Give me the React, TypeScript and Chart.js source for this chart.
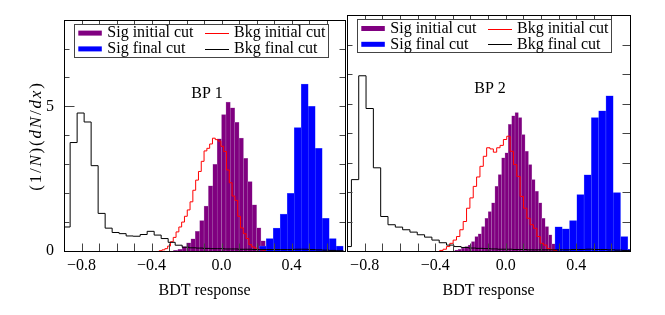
import React, { useEffect, useRef } from "react";
import { Chart, registerables } from "chart.js";

Chart.register(...registerables);

const FONT = "'Liberation Serif', 'Times New Roman', serif";

const X_MIN = -0.9;
const X_MAX = 0.705;
const Y_MIN = 0;
const Y_MAX = 8;
const X_LABELED_TICKS = [-0.8, -0.4, 0.0, 0.4];
const Y_LABELED_TICKS = [0, 5];
const X_TITLE = "BDT response";
const SERIES_LABELS = ["Sig initial cut", "Bkg initial cut", "Sig final cut", "Bkg final cut"];
const PANEL_NAMES = ["BP 1", "BP 2"];

// ---------- BP 1 ----------
const bp1SigInitialStart = -0.275;
const bp1SigInitialWidth = 0.025;
const bp1SigInitial = [0.02, 0.06, 0.15, 0.28, 0.42, 0.68, 1.05, 1.55, 2.25, 3.0, 3.88, 4.72, 5.15, 4.95, 4.45, 3.9, 3.2, 2.4, 1.6, 0.8, 0.35, 0.12, 0.04];

const bp1BkgInitialStart = -0.356;
const bp1BkgInitialWidth = 0.016;
const bp1BkgInitial = [0.01, 0.04, 0.08, 0.17, 0.32, 0.47, 0.66, 0.83, 1.0, 1.2, 1.42, 1.7, 2.1, 2.45, 2.75, 3.1, 3.46, 3.55, 3.7, 3.9, 3.85, 3.8, 3.62, 3.44, 2.8, 2.36, 1.9, 1.75, 1.2, 0.8, 0.6, 0.43, 0.22, 0.14, 0.1, 0.06, 0.03, 0.01];

const bp1SigFinalStart = 0.215;
const bp1SigFinalWidth = 0.04;
const bp1SigFinal = [0.17, 0.43, 0.79, 1.28, 1.99, 4.27, 5.77, 5.0, 3.55, 1.13, 0.43, 0.17];

const bp1BkgFinalStart = -0.905;
const bp1BkgFinalWidth = 0.04;
const bp1BkgFinal = [0.83, 3.75, 4.77, 4.46, 2.95, 1.3, 0.79, 0.64, 0.6, 0.52, 0.51, 0.57, 0.68, 0.55, 0.43, 0.3, 0.2, 0.13, 0.11, 0.1, 0.09, 0.08, 0.08, 0.07, 0.07, 0.06, 0.06, 0.05, 0.05, 0.05, 0.05, 0.05, 0.05, 0.06, 0.06, 0.05, 0.04, 0.03, 0.02, 0.01];

// ---------- BP 2 ----------
const bp2SigInitialStart = -0.289;
const bp2SigInitialWidth = 0.019;
const bp2SigInitial = [0.03, 0.06, 0.1, 0.15, 0.2, 0.32, 0.49, 0.58, 0.83, 1.11, 1.34, 1.63, 2.19, 2.59, 3.16, 3.33, 4.29, 4.58, 4.69, 4.52, 3.95, 3.38, 2.93, 2.42, 2.02, 1.63, 1.11, 0.83, 0.55, 0.24];

const bp2BkgInitialStart = -0.374;
const bp2BkgInitialWidth = 0.019;
const bp2BkgInitial = [0.02, 0.06, 0.15, 0.26, 0.37, 0.49, 0.72, 1.0, 1.45, 1.8, 2.19, 2.51, 2.87, 3.21, 3.5, 3.46, 3.35, 3.5, 3.58, 3.78, 3.89, 3.38, 2.93, 2.53, 1.85, 1.45, 1.11, 0.89, 0.77, 0.49, 0.26, 0.2, 0.08, 0.05, 0.02];

const bp2SigFinalStart = 0.2795;
const bp2SigFinalWidth = 0.0413;
const bp2SigFinal = [0.82, 0.75, 1.03, 1.91, 2.58, 4.52, 4.75, 5.26, 1.98, 0.49, 0.06];

const bp2BkgFinalStart = -0.9165;
const bp2BkgFinalWidth = 0.0415;
const bp2BkgFinal = [0.15, 2.42, 5.94, 4.83, 2.82, 1.17, 0.89, 0.81, 0.72, 0.64, 0.55, 0.47, 0.37, 0.28, 0.2, 0.15, 0.12, 0.1, 0.09, 0.08, 0.07, 0.06, 0.06, 0.05, 0.05, 0.04, 0.04, 0.04, 0.04, 0.04, 0.04, 0.05, 0.05, 0.06, 0.05, 0.05, 0.04, 0.03, 0.02];

const COLORS = {
  sigInitial: "#800080",
  sigInitialEdge: "#b27ab8",
  sigFinal: "#0000ff",
  sigFinalEdge: "#5c6cff",
  bkgInitial: "#ff0000",
  bkgFinal: "#000000",
};

type Hist = { start: number; width: number; values: number[] };

function barData(h: Hist) {
  return h.values.map((y, i) => ({ x: h.start + h.width * (i + 0.5), y }));
}

function stepData(h: Hist) {
  const pts = [{ x: h.start, y: 0 }];
  h.values.forEach((y, i) => pts.push({ x: h.start + h.width * i, y }));
  pts.push({ x: h.start + h.width * h.values.length, y: 0 });
  return pts;
}

function isMultiple(v: number, step: number) {
  const r = v / step;
  return Math.abs(r - Math.round(r)) < 1e-6;
}

type PanelDef = {
  name: string;
  isLeft: boolean;
  sigInitial: Hist;
  bkgInitial: Hist;
  sigFinal: Hist;
  bkgFinal: Hist;
};

function overlayPlugin(panel: PanelDef) {
  return {
    id: "overlay",
    afterDraw(chart: any) {
      const { ctx, chartArea: a } = chart;
      const xs = chart.scales.x;
      const ys = chart.scales.y;
      const L = Math.round(a.left) + 0.5;
      const R = Math.round(a.right) + 0.5;
      const T = Math.round(a.top) + 0.5;
      const B = Math.round(a.bottom) + 0.5;
      ctx.save();

      // ticks
      ctx.strokeStyle = "#444";
      ctx.lineWidth = 1;
      ctx.beginPath();
      xs.ticks.forEach((t: any) => {
        const v = t.value;
        if (!isMultiple(v, 0.1) || v <= X_MIN + 1e-6 || v > X_MAX) return;
        const px = Math.round(xs.getPixelForValue(v)) + 0.5;
        ctx.moveTo(px, B);
        ctx.lineTo(px, B - 8);
        ctx.moveTo(px, T);
        ctx.lineTo(px, T + 4);
      });
      ys.ticks.forEach((t: any) => {
        const v = t.value;
        if (v <= Y_MIN || v >= Y_MAX) return;
        const py = Math.round(ys.getPixelForValue(v)) + 0.5;
        const major = Y_LABELED_TICKS.includes(v);
        const leftLen = panel.isLeft ? (major ? 10 : 5) : 5;
        const rightLen = panel.isLeft ? 6 : 8;
        ctx.moveTo(L, py);
        ctx.lineTo(L + leftLen, py);
        ctx.moveTo(R, py);
        ctx.lineTo(R - rightLen, py);
      });
      ctx.stroke();

      // frame
      ctx.strokeStyle = "#000";
      ctx.strokeRect(L, T, R - L, B - T);

      // legend
      const lx = Math.round(a.left) + 10.5;
      const ly = Math.round(a.top) + 4.5;
      ctx.strokeStyle = "#444";
      ctx.strokeRect(lx, ly, 254, 33);
      ctx.font = `16px ${FONT}`;
      ctx.fillStyle = "#000";
      ctx.textBaseline = "alphabetic";
      ctx.textAlign = "left";
      const cols = [a.left + 14.3, a.left + 141];
      const rowsMid = [a.top + 13.5, a.top + 29.3];
      const rowsBase = [a.top + 17.8, a.top + 33.6];
      SERIES_LABELS.forEach((label, idx) => {
        const ds = chart.data.datasets.find((d: any) => d.label === label);
        if (!ds) return;
        const col = idx % 2;
        const row = Math.floor(idx / 2);
        const mx = cols[col];
        const my = rowsMid[row];
        if (ds.type === "bar") {
          ctx.fillStyle = ds.backgroundColor;
          ctx.fillRect(mx, my - 2.5, 23.5, 5);
        } else {
          ctx.strokeStyle = ds.borderColor;
          ctx.beginPath();
          ctx.moveTo(mx, Math.round(my) + 0.5);
          ctx.lineTo(mx + 24, Math.round(my) + 0.5);
          ctx.stroke();
        }
        ctx.fillStyle = "#000";
        ctx.fillText(label, mx + 29, rowsBase[row]);
      });

      // panel name
      ctx.textAlign = "center";
      ctx.fillText(panel.name, a.left + 143, a.top + 78.3);

      // y title
      if (panel.isLeft) {
        const parts: [string, boolean][] = [
          ["(", false], ["1", false], ["/", false], ["N", true], [")", false],
          ["(", false], ["d", true], ["N", true], ["/", false], ["d", true], ["x", true], [")", false],
        ];
        const gap = 1.8;
        const size = 17;
        const fontFor = (it: boolean) => `${it ? "italic " : ""}${size}px ${FONT}`;
        let total = 0;
        parts.forEach(([t, it]) => {
          ctx.font = fontFor(it);
          total += ctx.measureText(t).width;
        });
        total += gap * (parts.length - 1);
        ctx.translate(36.5, 137);
        ctx.rotate(-Math.PI / 2);
        ctx.textAlign = "left";
        ctx.textBaseline = "middle";
        let x = -total / 2;
        parts.forEach(([t, it]) => {
          ctx.font = fontFor(it);
          ctx.fillText(t, x, 0);
          x += ctx.measureText(t).width + gap;
        });
      }
      ctx.restore();
    },
  };
}

function makeChart(canvas: HTMLCanvasElement, panel: PanelDef) {
  const hidden = () => ({
    type: "linear",
    min: X_MIN,
    max: X_MAX,
    display: false,
    offset: false,
  });
  const barCommon = {
    type: "bar",
    borderWidth: { left: 0.5, right: 0.5, top: 0.5, bottom: 0 },
    borderSkipped: false,
    barPercentage: 1,
    categoryPercentage: 1,
    grouped: false,
    yAxisID: "y",
  };
  return new Chart(canvas, {
    type: "bar",
    data: {
      datasets: [
        {
          type: "line",
          label: SERIES_LABELS[3],
          data: stepData(panel.bkgFinal),
          borderColor: COLORS.bkgFinal,
          borderWidth: 1,
          pointRadius: 0,
          fill: false,
          stepped: "before",
          xAxisID: "x",
          yAxisID: "y",
        },
        {
          type: "line",
          label: SERIES_LABELS[1],
          data: stepData(panel.bkgInitial),
          borderColor: COLORS.bkgInitial,
          borderWidth: 1,
          pointRadius: 0,
          fill: false,
          stepped: "before",
          xAxisID: "x",
          yAxisID: "y",
        },
        {
          ...barCommon,
          label: SERIES_LABELS[2],
          data: barData(panel.sigFinal),
          backgroundColor: COLORS.sigFinal,
          borderColor: COLORS.sigFinalEdge,
          xAxisID: "xSigFinal",
        },
        {
          ...barCommon,
          label: SERIES_LABELS[0],
          data: barData(panel.sigInitial),
          backgroundColor: COLORS.sigInitial,
          borderColor: COLORS.sigInitialEdge,
          xAxisID: "xSigInitial",
        },
      ],
    } as any,
    options: {
      animation: false,
      responsive: false,
      devicePixelRatio: 1,
      events: [],
      layout: {
        padding: { left: panel.isLeft ? 0 : 7, right: panel.isLeft ? 3 : 35, top: 15, bottom: 0 },
      },
      plugins: { legend: { display: false }, tooltip: { enabled: false } },
      scales: {
        x: {
          type: "linear",
          min: X_MIN,
          max: X_MAX,
          offset: false,
          grid: { display: false, drawTicks: false },
          border: { display: false },
          ticks: {
            stepSize: 0.1,
            autoSkip: false,
            maxRotation: 0,
            minRotation: 0,
            padding: 5,
            color: "#000",
            font: { family: FONT, size: 16 },
            callback: (value: any) => {
              const v = Number(value);
              const m = X_LABELED_TICKS.find((t) => Math.abs(t - v) < 1e-6);
              if (m === undefined) return "";
              return (m < 0 ? "\u2212" : "") + Math.abs(m).toFixed(1);
            },
          },
          title: {
            display: true,
            text: X_TITLE,
            color: "#000",
            font: { family: FONT, size: 16 },
            padding: { top: 0, bottom: 15 },
          },
          afterFit: (s: any) => {
            s.height = 64;
          },
        },
        xSigInitial: hidden(),
        xSigFinal: hidden(),
        y: {
          type: "linear",
          min: Y_MIN,
          max: Y_MAX,
          display: panel.isLeft,
          grid: { display: false, drawTicks: false },
          border: { display: false },
          ticks: {
            stepSize: 1,
            padding: 10,
            color: "#000",
            font: { family: FONT, size: 16 },
            callback: (value: any) => (Y_LABELED_TICKS.includes(Number(value)) ? String(value) : ""),
          },
          afterFit: (s: any) => {
            s.width = panel.isLeft ? 64 : 0;
          },
        },
      },
    } as any,
    plugins: [overlayPlugin(panel)],
  });
}

const PANELS: PanelDef[] = [
  {
    name: PANEL_NAMES[0],
    isLeft: true,
    sigInitial: { start: bp1SigInitialStart, width: bp1SigInitialWidth, values: bp1SigInitial },
    bkgInitial: { start: bp1BkgInitialStart, width: bp1BkgInitialWidth, values: bp1BkgInitial },
    sigFinal: { start: bp1SigFinalStart, width: bp1SigFinalWidth, values: bp1SigFinal },
    bkgFinal: { start: bp1BkgFinalStart, width: bp1BkgFinalWidth, values: bp1BkgFinal },
  },
  {
    name: PANEL_NAMES[1],
    isLeft: false,
    sigInitial: { start: bp2SigInitialStart, width: bp2SigInitialWidth, values: bp2SigInitial },
    bkgInitial: { start: bp2BkgInitialStart, width: bp2BkgInitialWidth, values: bp2BkgInitial },
    sigFinal: { start: bp2SigFinalStart, width: bp2SigFinalWidth, values: bp2SigFinal },
    bkgFinal: { start: bp2BkgFinalStart, width: bp2BkgFinalWidth, values: bp2BkgFinal },
  },
];

export default function App() {
  const leftRef = useRef<HTMLCanvasElement>(null);
  const rightRef = useRef<HTMLCanvasElement>(null);

  useEffect(() => {
    const charts: Chart[] = [];
    if (leftRef.current) charts.push(makeChart(leftRef.current, PANELS[0]));
    if (rightRef.current) charts.push(makeChart(rightRef.current, PANELS[1]));
    return () => charts.forEach((c) => c.destroy());
  }, []);

  return (
    <div style={{ position: "absolute", left: 0, top: 0, width: 665, height: 315, background: "#fff", overflow: "hidden" }}>
      <canvas
        ref={leftRef}
        width={350}
        height={315}
        style={{ position: "absolute", left: 0, top: 0, width: 350, height: 315 }}
      />
      <canvas
        ref={rightRef}
        width={325}
        height={315}
        style={{ position: "absolute", left: 340, top: 0, width: 325, height: 315 }}
      />
    </div>
  );
}
